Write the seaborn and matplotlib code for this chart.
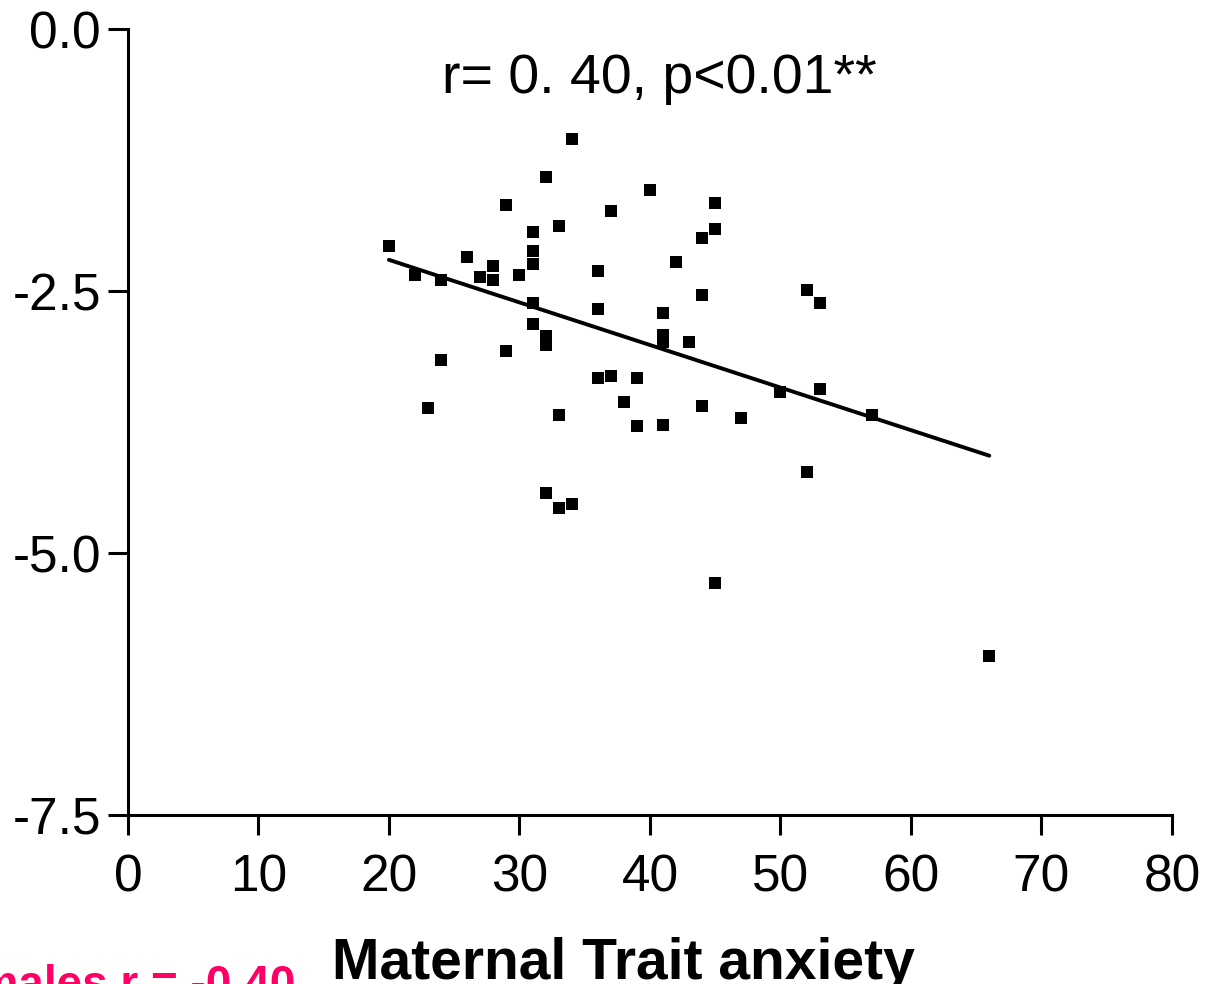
"""
Scatter of maternal trait anxiety against the outcome score,
with the fitted regression line and correlation annotation.
"""

import matplotlib
matplotlib.use('Agg')
import matplotlib.pyplot as plt
import seaborn as sns

# data
anxiety = [20, 22, 23, 24, 24, 26, 27, 28, 28, 29, 29, 30,
           31, 31, 31, 31, 31, 32, 32, 32, 32, 33, 33, 33,
           34, 34, 36, 36, 36, 37, 37, 38, 39, 39, 40,
           41, 41, 41, 41, 42, 43, 44, 44, 44, 45, 45, 45,
           47, 50, 52, 52, 53, 53, 57, 66]
score = [-2.07, -2.34, -3.61, -2.39, -3.16, -2.17, -2.36, -2.26, -2.39, -1.68, -3.07, -2.34,
         -1.93, -2.12, -2.24, -2.61, -2.81, -1.41, -2.93, -3.01, -4.43, -1.88, -3.68, -4.57,
         -1.05, -4.53, -2.31, -2.67, -3.33, -1.73, -3.31, -3.56, -3.33, -3.79, -1.53,
         -2.71, -2.92, -2.98, -3.78, -2.22, -2.98, -1.99, -2.54, -3.60, -1.66, -1.91, -5.29,
         -3.71, -3.46, -2.49, -4.23, -2.61, -3.43, -3.68, -5.98]

# regression line end points (as drawn in the figure)
fit_x = [20, 66]
fit_y = [-2.20, -4.07]

x_ticks = [0, 10, 20, 30, 40, 50, 60, 70, 80]
y_ticks = [0.0, -2.5, -5.0, -7.5]
y_tick_labels = ['0.0', '-2.5', '-5.0', '-7.5']

title_text = 'r= 0. 40, p<0.01**'
x_label = 'Maternal Trait anxiety'
corner_note = 'Females r = -0.40'

sns.set_style('ticks')
plt.rcParams['font.family'] = ['Liberation Sans', 'DejaVu Sans']
plt.rcParams['axes.unicode_minus'] = False
plt.rcParams['text.color'] = 'black'
plt.rcParams['axes.edgecolor'] = 'black'

fig = plt.figure(figsize=(12.14, 9.84), dpi=100)
ax = fig.add_axes([0.1054, 0.1718, 0.8600, 0.7983])

sns.scatterplot(x=anxiety, y=score, marker='s', color='black',
                s=64, linewidth=0, ax=ax)
sns.lineplot(x=fit_x, y=fit_y, color='black', linewidth=2.8, ax=ax)

ax.set_xlim(0, 80)
ax.set_ylim(-7.5, 0)
ax.set_xticks(x_ticks)
ax.set_yticks(y_ticks)
ax.set_yticklabels(y_tick_labels)

for side in ['top', 'right']:
    ax.spines[side].set_visible(False)
for side in ['left', 'bottom']:
    ax.spines[side].set_linewidth(2.2)
    ax.spines[side].set_color('black')
ax.tick_params(direction='out', length=14.4, width=2.2,
               labelsize=37, colors='black')
ax.tick_params(axis='x', pad=13)
ax.tick_params(axis='y', pad=5)

fig.text(659 / 1214, 1 - 93 / 984, title_text,
         ha='center', va='baseline', fontsize=40)
fig.text(623 / 1214, 1 - 979 / 984, x_label,
         ha='center', va='baseline', fontsize=41, fontweight='bold')
fig.text(295 / 1214, 1 - 998 / 984, corner_note,
         ha='right', va='baseline', fontsize=33, fontweight='bold',
         color='#ff0066')

fig.savefig('out.png', dpi=100)
